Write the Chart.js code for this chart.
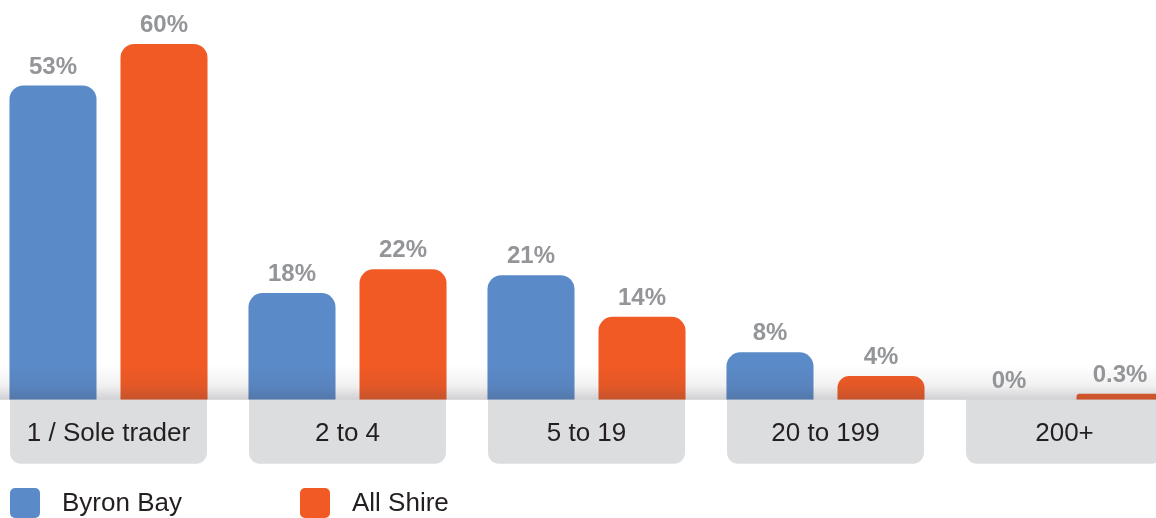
<!DOCTYPE html>
<html>
<head>
<meta charset="utf-8">
<script src="https://cdn.jsdelivr.net/npm/chart.js@4"></script>
<style>
  html, body { margin: 0; padding: 0; background: #fff; overflow: hidden; }
  #wrap { position: absolute; left: -11px; top: 0; width: 1195px; height: 518px; }
</style>
</head>
<body>
<div id="wrap"><canvas id="sizeChart"></canvas></div>
<script>
const categories = ['1 / Sole trader', '2 to 4', '5 to 19', '20 to 199', '200+'];
const seriesNames = ['Byron Bay', 'All Shire'];
const byronBay = [53, 18, 21, 8, 0];
const allShire = [60, 22, 14, 4, 0.3];
const seriesColours = ['#5b8ac8', '#f15a24'];

const FONT = "'Liberation Sans', Arial, Helvetica, sans-serif";

// grey rounded boxes behind each category name
const labelBoxes = {
    id: 'labelBoxes',
    beforeDraw(chart) {
        const ctx = chart.ctx;
        const x = chart.scales.x;
        const bottom = chart.chartArea.bottom;
        const half = x.width / categories.length * 0.824 / 2;
        ctx.save();
        ctx.fillStyle = '#dcdddf';
        categories.forEach((c, i) => {
            const cx = x.getPixelForValue(i);
            ctx.beginPath();
            ctx.roundRect(cx - half, bottom, half * 2, 64, [0, 0, 11, 11]);
            ctx.fill();
        });
        ctx.restore();
    }
};

// shading along the baseline, value labels and the legend
const extras = {
    id: 'extras',
    afterDatasetsDraw(chart) {
        const ctx = chart.ctx;
        const area = chart.chartArea;
        ctx.save();
        const g = ctx.createLinearGradient(0, area.bottom - 34, 0, area.bottom);
        g.addColorStop(0, 'rgba(60,60,70,0)');
        g.addColorStop(0.6, 'rgba(60,60,70,0.08)');
        g.addColorStop(1, 'rgba(60,60,70,0.24)');
        ctx.fillStyle = g;
        ctx.fillRect(0, area.bottom - 34, chart.width, 34);

        ctx.fillStyle = '#939598';
        ctx.font = 'bold 24px ' + FONT;
        ctx.textAlign = 'center';
        ctx.textBaseline = 'alphabetic';
        chart.data.datasets.forEach((ds, di) => {
            chart.getDatasetMeta(di).data.forEach((bar, i) => {
                ctx.fillText(ds.data[i] + '%', bar.x, bar.y - 12);
            });
        });
        ctx.restore();
    },
    afterDraw(chart) {
        const ctx = chart.ctx;
        const starts = [21, 311];
        ctx.save();
        ctx.font = '26px ' + FONT;
        ctx.textBaseline = 'middle';
        ctx.textAlign = 'left';
        seriesNames.forEach((name, i) => {
            ctx.fillStyle = seriesColours[i];
            ctx.beginPath();
            ctx.roundRect(starts[i], 488, 30, 30, 5);
            ctx.fill();
            ctx.fillStyle = '#231f20';
            ctx.fillText(name, starts[i] + 52, 504);
        });
        ctx.restore();
    }
};

const ctx = document.getElementById('sizeChart').getContext('2d');
const sizeChart = new Chart(ctx, {
    type: 'bar',
    data: {
        labels: categories,
        datasets: [{
            label: seriesNames[0],
            data: byronBay,
            backgroundColor: seriesColours[0],
            borderRadius: { topLeft: 14, topRight: 14 },
            borderSkipped: 'start'
        }, {
            label: seriesNames[1],
            data: allShire,
            backgroundColor: seriesColours[1],
            borderRadius: { topLeft: 14, topRight: 14 },
            borderSkipped: 'start',
            minBarLength: 6
        }]
    },
    options: {
        responsive: true,
        maintainAspectRatio: false,
        animation: false,
        events: [],
        categoryPercentage: 0.929,
        barPercentage: 0.784,
        layout: { padding: { top: 44, bottom: 59, left: 0, right: 0 } },
        plugins: {
            legend: { display: false },
            tooltip: { enabled: false }
        },
        scales: {
            x: {
                grid: { display: false },
                border: { display: false },
                ticks: {
                    color: '#231f20',
                    font: { family: FONT, size: 26 },
                    padding: 10
                }
            },
            y: {
                display: false,
                min: 0,
                max: 60
            }
        }
    },
    plugins: [labelBoxes, extras]
});
</script>
</body>
</html>
